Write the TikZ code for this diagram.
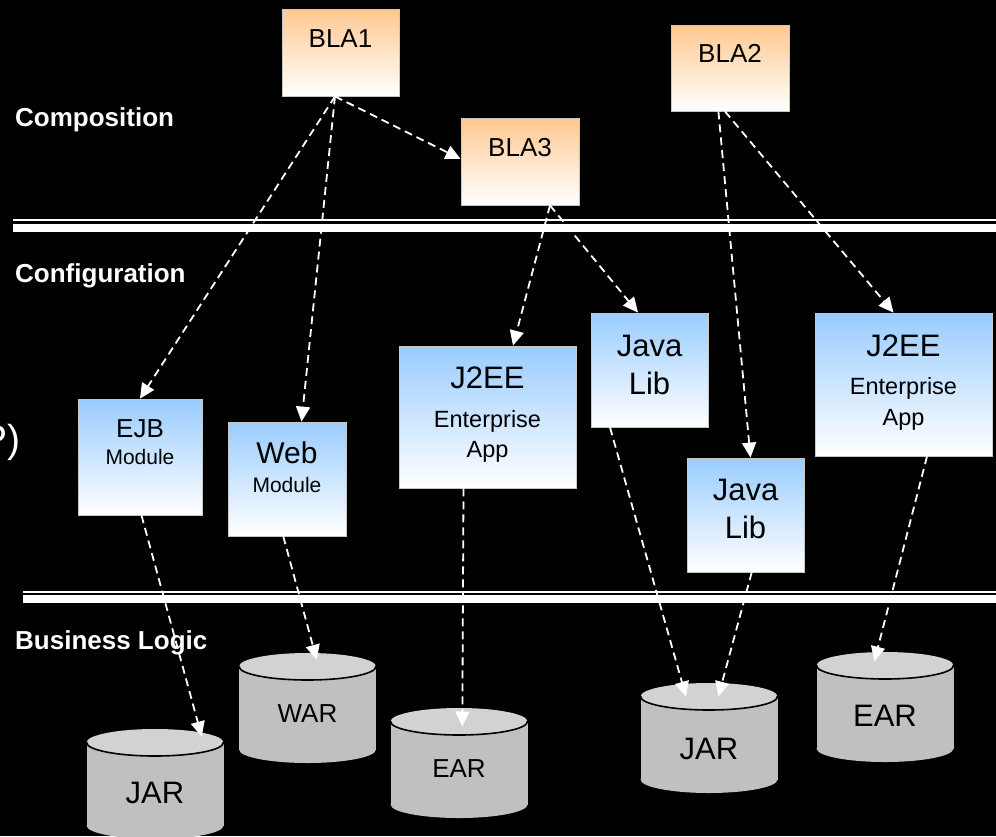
\documentclass[tikz,border=0pt]{standalone}
\usepackage{fontspec}
\setmainfont{Liberation Sans}
\usetikzlibrary{arrows.meta}
\definecolor{bluetop}{HTML}{99CCFF}
\definecolor{orangetop}{HTML}{FFC890}
\definecolor{cylbodyc}{HTML}{C0C0C0}
\definecolor{cyltopc}{HTML}{D2D2D2}
\newcommand\fs[1]{\fontsize{#1}{#1}\selectfont}
\newcommand\drawcyl[6]{%
  \fill[cylbodyc] (#2-68.5,#3+13.5) rectangle (#2+68.5,#3+96.5);
  \fill[cylbodyc] (#2,#3+96.5) ellipse [x radius=68.5, y radius=13.5];
  \fill[cyltopc] (#2,#3+13.5) ellipse [x radius=68.5, y radius=13.5];
  \begin{scope}
    \clip (#2-72,#3+13.5) rectangle (#2+72,#3+32);
    \draw[black, line width=1.6pt] (#2,#3+13.5) ellipse [x radius=68.5, y radius=13.5];
  \end{scope}
  \node[cylnode] (#1) at (#2,#3+55) {};
  \node[txt, font=\fs{#4}] (#1t) at (#2,#5) {#6};
}
\begin{document}
\begin{tikzpicture}[x=1pt,y=-1pt,
  orangebox/.style={rectangle, draw=gray!45, line width=0.8pt, top color=orangetop, bottom color=white, inner sep=0pt},
  bluebox/.style={rectangle, draw=gray!45, line width=0.8pt, top color=bluetop, bottom color=white, inner sep=0pt},
  txt/.style={anchor=base, inner sep=0pt, text=black},
  lbl/.style={anchor=base west, inner sep=0pt, text=white, font=\bfseries\fs{26}},
  conn/.style={draw=white, line width=1.8pt, dash pattern=on 8pt off 5pt, -{Triangle[length=15pt,width=14pt,fill=white]}},
  cylnode/.style={rectangle, inner sep=0pt, minimum width=137pt, minimum height=110pt},
  sep/.style={white}
]
\useasboundingbox (0,0) rectangle (996,836);
\clip (0,0) rectangle (996,836);
\fill[black] (0,0) rectangle (996,836);

% separators
\draw[sep, line width=2pt] (13,220.3) -- (996,220.3);
\fill[sep] (13,224) rectangle (996,231.5);
\draw[sep, line width=2pt] (23,591.7) -- (996,591.7);
\fill[sep] (23,595) rectangle (996,602.6);

% layer labels
\node[lbl] (lcomp) at (15,126) {Composition};
\node[lbl] (lconf) at (15,282) {Configuration};
\node[lbl] (lbus) at (15,649) {Business Logic};
\node[anchor=base east, inner sep=0pt, text=white, font=\fs{39}] (cut) at (20.5,452) {P)};

% composition boxes
\node[orangebox, minimum width=117pt, minimum height=87pt] (bla1) at (340.5,52.5) {};
\node[txt, font=\fs{26}] (bla1t) at (340.5,47) {BLA1};
\node[orangebox, minimum width=118pt, minimum height=87pt] (bla3) at (520,161.5) {};
\node[txt, font=\fs{26}] (bla3t) at (520,156) {BLA3};
\node[orangebox, minimum width=118pt, minimum height=86pt] (bla2) at (730,68) {};
\node[txt, font=\fs{26}] (bla2t) at (730,62) {BLA2};

% configuration boxes
\node[bluebox, minimum width=124pt, minimum height=116pt] (ejb) at (140,457) {};
\node[txt, font=\fs{26}] (ejbt) at (140,437) {EJB};
\node[txt, font=\fs{21}] (ejbm) at (140,464) {Module};

\node[bluebox, minimum width=118pt, minimum height=114pt] (web) at (287,479) {};
\node[txt, font=\fs{30}] (webt) at (287,463) {Web};
\node[txt, font=\fs{21}] (webm) at (287,492) {Module};

\node[bluebox, minimum width=177pt, minimum height=142pt] (j2eea) at (487.5,417) {};
\node[txt, font=\fs{31}] (j2eeat) at (487.5,388) {J2EE};
\node[txt, font=\fs{23.5}] (j2eeae) at (487.5,427) {Enterprise};
\node[txt, font=\fs{23.5}] (j2eeaa) at (487.5,457) {App};

\node[bluebox, minimum width=117pt, minimum height=114pt] (libA) at (649.5,370) {};
\node[txt, font=\fs{31}] (libAt) at (649.5,356) {Java};
\node[txt, font=\fs{31}] (libAl) at (649.5,394) {Lib};

\node[bluebox, minimum width=117pt, minimum height=114pt] (libB) at (745.5,515) {};
\node[txt, font=\fs{31}] (libBt) at (745.5,500) {Java};
\node[txt, font=\fs{31}] (libBl) at (745.5,538) {Lib};

\node[bluebox, minimum width=177pt, minimum height=143pt] (j2eeb) at (903.5,384.5) {};
\node[txt, font=\fs{31}] (j2eebt) at (903.5,356) {J2EE};
\node[txt, font=\fs{23.5}] (j2eebe) at (903.5,394) {Enterprise};
\node[txt, font=\fs{23.5}] (j2eeba) at (903.5,425) {App};

% business logic archives
\drawcyl{jar1}{155}{729}{31}{803}{JAR}
\drawcyl{war}{307.5}{653}{26}{722}{WAR}
\drawcyl{earA}{459}{708}{26}{777}{EAR}
\drawcyl{jar2}{709}{683}{31}{759}{JAR}
\drawcyl{earB}{885}{652}{31}{726}{EAR}

% connectors
\draw[conn] ([xshift=-5.5pt]bla1.south) -- (ejb.north);
\draw[conn] ([xshift=-5.5pt]bla1.south) -- ([xshift=14.5pt]web.north);
\draw[conn] ([xshift=-5.5pt]bla1.south) -- ([yshift=2.5pt]bla3.west);
\draw[conn] ([xshift=30pt]bla3.south) -- ([xshift=25.5pt]j2eea.north);
\draw[conn] ([xshift=30pt]bla3.south) -- ([xshift=-11.5pt]libA.north);
\draw[conn] ([xshift=-11.6pt]bla2.south) -- ([xshift=5pt]libB.north);
\draw[conn] ([xshift=-5pt]bla2.south) -- ([xshift=-10pt]j2eeb.north);
\draw[conn] ([xshift=1.5pt]ejb.south) -- ([xshift=46.7pt,yshift=-7.7pt]jar1.north);
\draw[conn] ([xshift=-3.7pt]web.south) -- ([xshift=9.2pt,yshift=-7pt]war.north);
\draw[conn] ([xshift=-24pt]j2eea.south) -- ([xshift=3.3pt,yshift=-18.7pt]earA.north);
\draw[conn] ([xshift=-39.5pt]libA.south) -- ([xshift=-23pt,yshift=-13.7pt]jar2.north);
\draw[conn] ([xshift=6.2pt]libB.south) -- ([xshift=9.3pt,yshift=-13.7pt]jar2.north);
\draw[conn] ([xshift=23.5pt]j2eeb.south) -- ([xshift=-10.7pt,yshift=-9.7pt]earB.north);
\end{tikzpicture}
\end{document}
